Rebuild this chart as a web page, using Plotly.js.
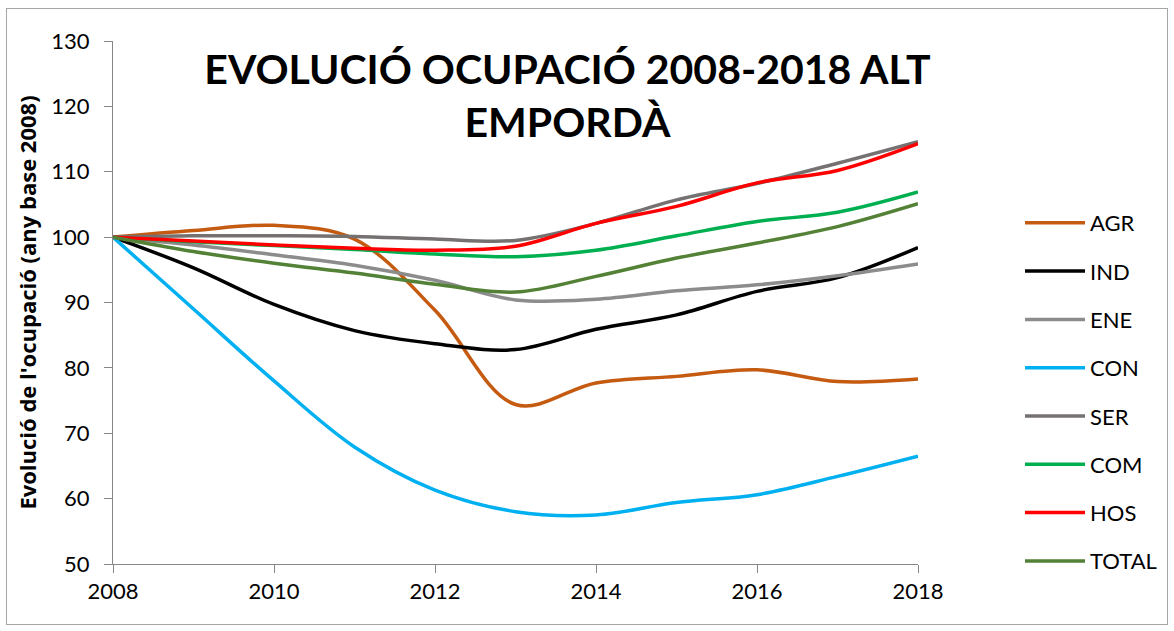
<!DOCTYPE html>
<html>
<head>
<meta charset="utf-8">
<script src="https://cdn.plot.ly/plotly-3.0.1.min.js"></script>
<style>
html,body{margin:0;padding:0;background:#fff;}
#wrap{position:relative;width:1174px;height:631px;}
#chart{width:1174px;height:631px;}
#frame{position:absolute;left:6px;top:8px;width:1162px;height:617px;border:1px solid #a6a6a6;pointer-events:none;box-sizing:border-box;}
</style>
</head>
<body>
<div id="wrap"><div id="chart"></div><div id="frame"></div></div>
<script>
const years = [2008, 2009, 2010, 2011, 2012, 2013, 2014, 2015, 2016, 2017, 2018];
const AGR   = [100, 101.0, 101.8, 99.7, 88.8, 74.4, 77.7, 78.7, 79.7, 77.9, 78.3];
const IND   = [100, 95.3, 89.7, 85.7, 83.7, 82.8, 85.9, 88.1, 91.7, 93.8, 98.4];
const ENE   = [100, 98.8, 97.3, 95.7, 93.4, 90.4, 90.5, 91.8, 92.7, 94.1, 95.9];
const CON   = [100, 89.0, 78.0, 67.9, 61.3, 58.0, 57.5, 59.4, 60.6, 63.4, 66.5];
const SER   = [100, 100.2, 100.2, 100.1, 99.7, 99.5, 102.1, 105.7, 108.2, 111.3, 114.6];
const COM   = [100, 99.3, 98.7, 98.1, 97.4, 97.0, 98.0, 100.2, 102.4, 103.8, 106.9];
const HOS   = [100, 99.4, 98.8, 98.3, 98.0, 98.6, 102.1, 104.7, 108.3, 110.2, 114.3];
const TOTAL = [100, 97.8, 96.0, 94.5, 92.8, 91.6, 94.0, 96.8, 99.1, 101.6, 105.1];

const seriesNames = ['AGR','IND','ENE','CON','SER','COM','HOS','TOTAL'];
const seriesData  = [AGR, IND, ENE, CON, SER, COM, HOS, TOTAL];
const seriesColors = ['#c55a11','#000000','#8c8c8c','#00b0f0','#767171','#00b050','#ff0000','#538135'];

const FONT = 'Lato, "Open Sans", sans-serif';

const traces = seriesNames.map((n, i) => ({
  type: 'scatter',
  mode: 'lines',
  name: n,
  legendgroup: n,
  x: years,
  y: seriesData[i],
  line: {color: seriesColors[i], width: 3.5, shape: 'spline', smoothing: 1}
}));

const layout = {
  width: 1174,
  height: 631,
  paper_bgcolor: '#ffffff',
  plot_bgcolor: '#ffffff',
  margin: {l: 113, r: 256, t: 41, b: 67},
  font: {family: FONT, color: '#000000', size: 22},
  title: {
    text: '<b>EVOLUCIÓ OCUPACIÓ 2008-2018 ALT<br>EMPORDÀ</b>',
    font: {family: FONT, size: 41, color: '#000000', weight: 'bold'},
    x: (567.5 - 113) / 805,
    xref: 'paper',
    xanchor: 'center',
    y: 1 - 84 / 631,
    yref: 'container',
    yanchor: 'top'
  },
  xaxis: {
    range: [2008, 2018],
    tickvals: [2008, 2010, 2012, 2014, 2016, 2018],
    ticktext: ['2008','2010','2012','2014','2016','2018'],
    showgrid: false,
    zeroline: false,
    showline: true,
    linecolor: '#868686',
    linewidth: 1,
    ticks: 'outside',
    ticklen: 8,
    tickcolor: '#868686',
    tickfont: {family: FONT, size: 22, color: '#000'},
    fixedrange: true
  },
  yaxis: {
    range: [50, 130],
    tickvals: [50, 60, 70, 80, 90, 100, 110, 120, 130],
    showgrid: false,
    zeroline: false,
    showline: true,
    linecolor: '#868686',
    linewidth: 1,
    ticks: 'outside',
    ticklen: 8,
    tickcolor: '#868686',
    ticklabelstandoff: 10,
    tickfont: {family: FONT, size: 22, color: '#000'},
    title: {
      text: "<b>Evolució de l'ocupació (any base 2008)</b>",
      font: {family: '"Open Sans", Lato, sans-serif', size: 22, color: '#000', weight: 'bold'},
      standoff: 8
    },
    fixedrange: true
  },
  showlegend: true,
  legend: {
    x: (1020 - 113) / 805,
    xanchor: 'left',
    y: (564 - 202) / 523,
    yanchor: 'top',
    font: {family: FONT, size: 22, color: '#000'},
    tracegroupgap: 16.7,
    itemwidth: 60,
    bgcolor: 'rgba(0,0,0,0)'
  }
};

Plotly.newPlot('chart', traces, layout, {displayModeBar: false, staticPlot: true});
</script>
</body>
</html>
